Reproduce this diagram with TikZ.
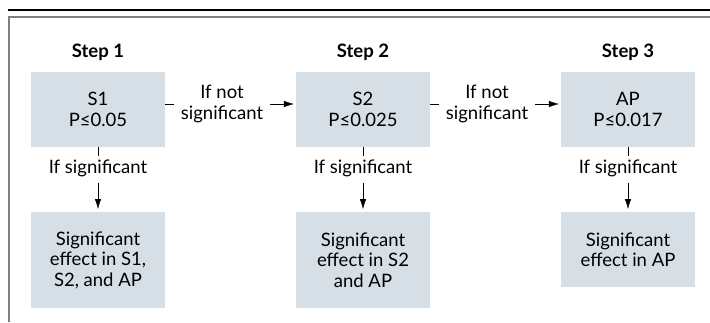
\documentclass[tikz,border=0pt]{standalone}
\usepackage{fontspec}
\setmainfont{Lato}
\usepackage{tikz}
\usepackage{xcolor}
\usetikzlibrary{arrows.meta,positioning}

\definecolor{cajafondo}{RGB}{214,222,230}
\definecolor{marcogris}{RGB}{128,128,128}

\tikzset{
    texto/.style={font=\fontsize{18.5}{20.5}\selectfont},
    pruebabox/.style={texto, fill=cajafondo, minimum width=134pt, minimum height=75pt, align=center, inner sep=0pt},
    resbox/.style={texto, fill=cajafondo, minimum width=134pt, align=center, inner sep=0pt, anchor=north},
    etiq/.style={texto, align=center, inner xsep=6.5pt, inner ysep=3pt},
    flecha/.style={-{Latex[length=10pt,width=6.5pt]}}
}

\begin{document}
\begin{tikzpicture}[x=1pt,y=-1pt]
            \useasboundingbox (0,0) rectangle (710,322);
            % Marco
            \draw[line width=1.3pt] (8,10) -- (710,10);
            \draw[marcogris, line width=2pt] (9,322) -- (9,16.5) -- (710,16.5);

            % Columnas de cada paso
            \foreach \i/\x/\prueba/\res/\alto in {1/98/{S1\\P≤0.05}/{Significant\\effect in S1,\\S2, and AP}/96,
                                                2/363/{S2\\P≤0.025}/{Significant\\effect in S2\\and AP}/96,
                                                3/628/{AP\\P≤0.017}/{Significant\\effect in AP}/75} {
                \node[texto, font=\bfseries\fontsize{18.5}{20.5}\selectfont] (paso\i) at (\x,52) {Step \i};
                \node[pruebabox] (prueba\i) at (\x,109.5) {\prueba};
                \node[resbox, minimum height=\alto pt] (res\i) at (\x,212) {\res};
                \node[etiq] (sig\i) at (\x,168) {If significant};
                \draw (prueba\i) -- (sig\i);
                \draw[flecha, shorten <=3pt, shorten >=3pt] (sig\i) -- (res\i);
            }

            \node[etiq, inner ysep=0pt] (nosig1) at (222,104) {If not\\significant};
            \node[etiq, inner ysep=0pt] (nosig2) at (487,104) {If not\\significant};

            \draw (prueba1.east |- nosig1.west) -- (nosig1.west);
            \draw[flecha, shorten >=2pt] (nosig1.east) -- (prueba2.west |- nosig1.east);
            \draw (prueba2.east |- nosig2.west) -- (nosig2.west);
            \draw[flecha, shorten >=2pt] (nosig2.east) -- (prueba3.west |- nosig2.east);
        \end{tikzpicture}
\end{document}
